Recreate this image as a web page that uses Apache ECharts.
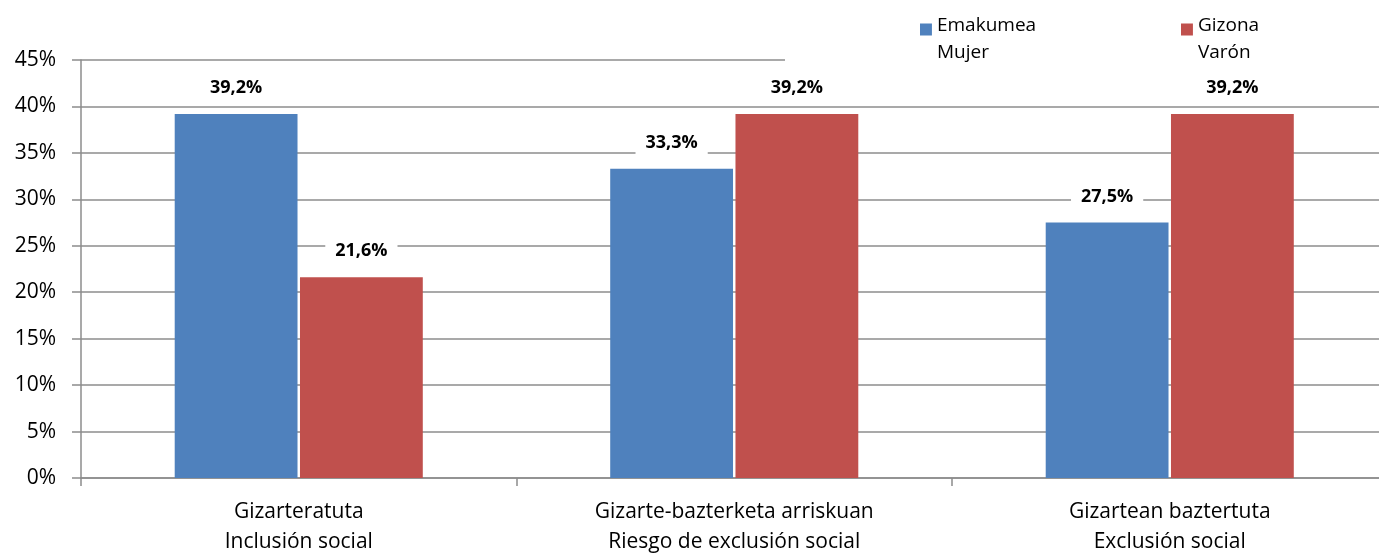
<!DOCTYPE html>
<html>
<head>
<meta charset="utf-8">
<script src="https://cdn.jsdelivr.net/npm/echarts@6/dist/echarts.min.js"></script>
<style>
  html, body { margin: 0; padding: 0; background: #fff; }
  #chart { width: 1379px; height: 554px; }
</style>
</head>
<body>
<div id="chart"></div>
<script>
// Social inclusion status by sex (Basque / Spanish labels)
const categories = [
  'Gizarteratuta\nInclusión social',
  'Gizarte-bazterketa arriskuan\nRiesgo de exclusión social',
  'Gizartean baztertuta\nExclusión social'
];
const womenValues = [39.2, 33.3, 27.5];
const menValues = [21.6, 39.2, 39.2];
const seriesNames = ['Emakumea\nMujer', 'Gizona\nVarón'];
const yTicks = [0, 5, 10, 15, 20, 25, 30, 35, 40, 45];

const FONT = '"Open Sans", "Noto Sans", sans-serif';
const GRID = '#8c8c8c';

// Legend marker: a square in the upper part so it sits beside the first text line
const markerPath = 'path://M0,0h10v10h-10z M0,26h0.01v0.01h-0.01z';

const valueLabel = {
  show: true,
  position: 'top',
  distance: 14,
  formatter: p => p.value.toFixed(1).replace('.', ',') + '%',
  fontFamily: FONT,
  fontWeight: 'bold',
  fontSize: 18,
  color: '#000',
  backgroundColor: '#fff',
  padding: [3, 10, 3, 10]
};

const legendText = { fontFamily: FONT, fontSize: 19, color: '#000', lineHeight: 27 };

const chart = echarts.init(document.getElementById('chart'));
chart.setOption({
  animation: false,
  textStyle: { fontFamily: FONT },
  grid: {
    left: 81, right: -8.5, top: 60, bottom: 76,
    containLabel: false, outerBoundsMode: 'none'
  },
  legend: [
    {
      data: [seriesNames[0]],
      left: 785, top: 0,
      padding: [12, 140, 0, 135],
      backgroundColor: '#fff',
      icon: markerPath,
      itemWidth: 12, itemHeight: 31,
      itemGap: 0,
      textStyle: legendText
    },
    {
      data: [seriesNames[1]],
      left: 1050, top: 0,
      padding: [12, 200, 0, 131],
      backgroundColor: '#fff',
      icon: markerPath,
      itemWidth: 12, itemHeight: 31,
      itemGap: 0,
      textStyle: legendText
    }
  ],
  xAxis: {
    type: 'category',
    data: categories,
    axisLine: { show: true, lineStyle: { color: GRID, width: 1.5 } },
    axisTick: { show: true, alignWithLabel: false, length: 8, lineStyle: { color: GRID, width: 1.5 } },
    axisLabel: {
      fontFamily: FONT, fontSize: 21, color: '#000',
      lineHeight: 30, margin: 19, interval: 0
    }
  },
  yAxis: {
    type: 'value',
    min: yTicks[0],
    max: yTicks[yTicks.length - 1],
    interval: yTicks[1] - yTicks[0],
    axisLine: { show: true, lineStyle: { color: GRID, width: 1.5 } },
    axisTick: { show: true, length: 9, lineStyle: { color: GRID, width: 1.5 } },
    splitLine: { show: true, lineStyle: { color: GRID, width: 1.5 } },
    axisLabel: {
      fontFamily: FONT, fontSize: 21, color: '#000', margin: 25,
      formatter: v => v + '%'
    }
  },
  series: [
    {
      name: seriesNames[0],
      type: 'bar',
      data: womenValues,
      barWidth: '28.2%',
      barGap: '2%',
      itemStyle: { color: '#4F81BD' },
      label: valueLabel
    },
    {
      name: seriesNames[1],
      type: 'bar',
      data: menValues,
      barWidth: '28.2%',
      barGap: '2%',
      itemStyle: { color: '#C0504D' },
      label: valueLabel
    }
  ]
});
</script>
</body>
</html>
